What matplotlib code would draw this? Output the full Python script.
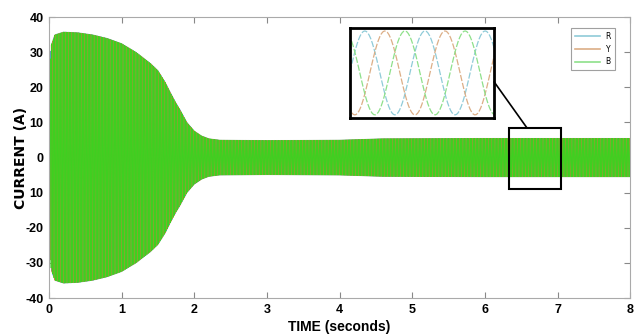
import numpy as np
import matplotlib
matplotlib.use("Agg")
import matplotlib.pyplot as plt
from matplotlib.patches import Rectangle, ConnectionPatch

# envelope of the phase currents (seconds, amps peak)
env_t = [0.0, 0.03, 0.08, 0.2, 0.4, 0.6, 0.8, 1.0, 1.2, 1.4, 1.5, 1.6, 1.67, 1.75, 1.8, 1.9,
         2.0, 2.1, 2.2, 2.35, 3.0, 4.0, 4.6, 6.0, 8.0]
env_amp = [22.0, 32.0, 35.0, 35.8, 35.6, 35.0, 34.0, 32.5, 30.0, 26.8, 24.8, 21.5, 18.6, 15.5, 13.8, 10.0,
           7.6, 6.2, 5.4, 5.0, 4.9, 5.0, 5.4, 5.5, 5.5]
freq = 50.0
phases = ["R", "Y", "B"]
phase_shift_deg = [0, -120, 120]
main_colors = ["#4aa6c8", "#c9823f", "#3ed020"]
soft_colors = ["#8fcbd8", "#dcae86", "#8ee08a"]

xticks = [0, 1, 2, 3, 4, 5, 6, 7, 8]
yticks = [-40, -30, -20, -10, 0, 10, 20, 30, 40]
ytick_labels = ["-40", "-30", "-20", "10", "0", "10", "20", "30", "40"]

t = np.linspace(0, 8, 8 * int(freq) * 40 + 1)
amp = np.interp(t, env_t, env_amp)

def phase_current(shift):
    return amp * np.sin(2 * np.pi * freq * t + np.deg2rad(shift))

narrow = ["Liberation Sans Narrow", "Liberation Sans", "DejaVu Sans"]
tick_font = {"family": narrow, "weight": "bold", "size": 9}

fig = plt.figure(figsize=(6.36, 3.36), dpi=100)
ax = fig.add_axes([0.077, 0.113, 0.914, 0.836])

for name, sh, c in zip(phases, phase_shift_deg, main_colors):
    ax.plot(t, phase_current(sh), color=c, lw=0.5)

ax.set_xlim(0, 8)
ax.set_ylim(-40, 40)
ax.set_xticks(xticks)
ax.set_xticklabels([str(v) for v in xticks], fontdict=tick_font)
ax.set_yticks(yticks)
ax.set_yticklabels(ytick_labels, fontdict=tick_font)
ax.tick_params(direction="in", top=True, right=True, length=4, color="#888888", pad=4)
for s in ax.spines.values():
    s.set_color("#aaaaaa")
    s.set_linewidth(0.8)

ax.set_ylabel("CURRENT (A)", fontsize=10, fontweight="bold", labelpad=-2)
ax.set_xlabel("TIME (seconds)", fontdict={"family": narrow, "weight": "bold", "size": 10}, labelpad=3)

# zoom box on the steady-state part
ax.add_patch(Rectangle((6.33, -8.9), 0.72, 17.2, fill=False, ec="black", lw=1.5, zorder=5))

# legend with pale phase colours
handles = [plt.Line2D([], [], color=c, lw=1.2) for c in soft_colors]
leg = ax.legend(handles, phases, loc="upper right", bbox_to_anchor=(0.98, 0.975),
                fontsize=5.5, frameon=True, handlelength=3.2, labelspacing=0.5,
                borderpad=0.5, fancybox=False)
leg.get_frame().set_edgecolor("#888888")
leg.get_frame().set_linewidth(0.8)

# inset showing the individual waveforms
axin = fig.add_axes([0.550, 0.649, 0.227, 0.268])
for name, sh, c in zip(phases, phase_shift_deg, soft_colors):
    axin.plot(t, phase_current(sh), color=c, lw=0.9, dashes=(5, 1.5))
axin.set_xlim(6.6, 6.648)
axin.set_ylim(-5.9, 5.9)
axin.set_xticks([])
axin.set_yticks([])
for s in axin.spines.values():
    s.set_color("black")
    s.set_linewidth(2)

con = ConnectionPatch(xyA=(1.0, 0.4), coordsA=axin.transAxes,
                      xyB=(6.58, 8.4), coordsB=ax.transData,
                      color="black", lw=1.2)
fig.add_artist(con)

fig.savefig("out.png", dpi=100)
